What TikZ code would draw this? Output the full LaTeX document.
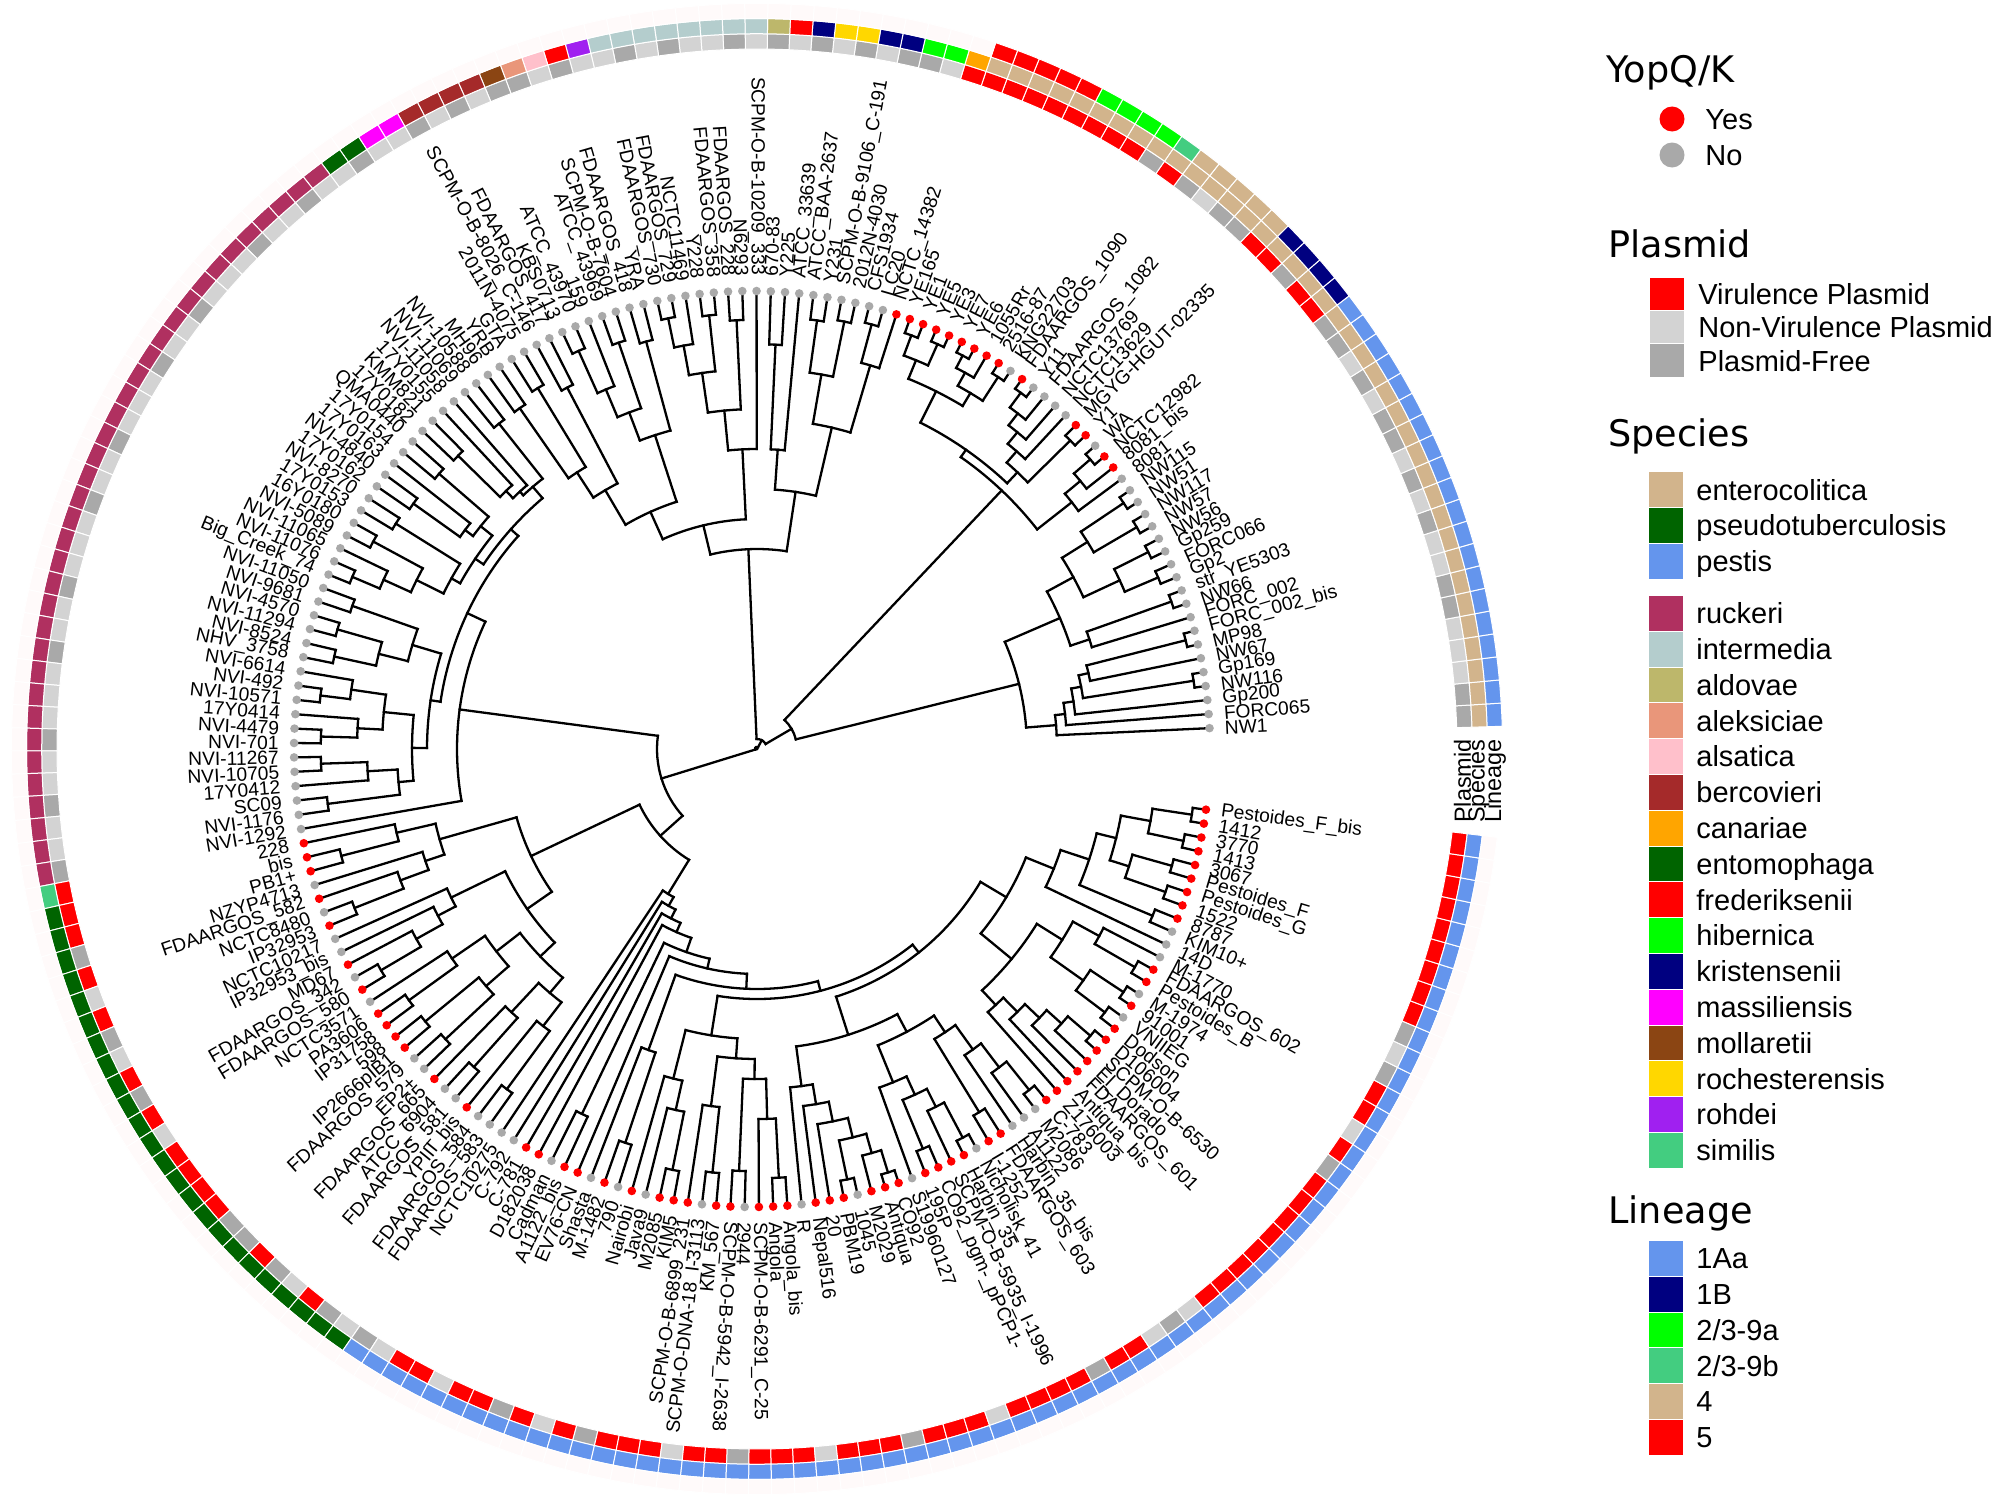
\documentclass[tikz,border=0pt]{standalone}
\usepackage{fontspec}
\setmainfont{Liberation Sans}
\newfontfamily\legfont{DejaVu Sans}
\definecolor{dY}{HTML}{FF0000}
\definecolor{dN}{HTML}{A9A9A9}
\definecolor{pV}{HTML}{FF0000}
\definecolor{pN}{HTML}{D3D3D3}
\definecolor{pF}{HTML}{A9A9A9}
\definecolor{sent}{HTML}{D2B48C}
\definecolor{spst}{HTML}{006400}
\definecolor{spes}{HTML}{6495ED}
\definecolor{sruc}{HTML}{B03060}
\definecolor{sint}{HTML}{B4CDCD}
\definecolor{sald}{HTML}{BDB76B}
\definecolor{sale}{HTML}{E9967A}
\definecolor{sals}{HTML}{FFC0CB}
\definecolor{sber}{HTML}{A52A2A}
\definecolor{scan}{HTML}{FFA500}
\definecolor{sento}{HTML}{006400}
\definecolor{sfre}{HTML}{FF0000}
\definecolor{shib}{HTML}{00FF00}
\definecolor{skri}{HTML}{000080}
\definecolor{smas}{HTML}{FF00FF}
\definecolor{smol}{HTML}{8B4513}
\definecolor{sroc}{HTML}{FFD700}
\definecolor{sroh}{HTML}{A020F0}
\definecolor{ssim}{HTML}{43CD80}
\definecolor{lA}{HTML}{6495ED}
\definecolor{lB}{HTML}{000080}
\definecolor{la}{HTML}{00FF00}
\definecolor{lb}{HTML}{43CD80}
\definecolor{l4}{HTML}{D2B48C}
\definecolor{l5}{HTML}{FF0000}
\definecolor{lX}{HTML}{FFFAFA}

\newcount\lfc
\newcount\dcount
\def\angstart{2.64}
\def\angstep{1.784}
\def\parR{0}
\def\lastang{0}

% leaf of the tree
\newcommand\TL{%
  \pgfmathsetmacro\tang{\angstart+\the\lfc*\angstep}%
  \pgfmathsetmacro\trr{458-5*cos(\tang)}%
  \draw[tree] (\tang:\trr) -- (\tang:\parR);%
  \global\advance\lfc by 1\relax
  \xdef\lastang{\tang}}
% internal node: radius, child, child
\newcommand\TN[3]{%
  \begingroup
  \edef\myPR{\parR}%
  \def\parR{#1}%
  #2\let\angA\lastang
  #3\let\angB\lastang
  \pgfmathsetmacro\myang{(\angA+\angB)/2}%
  \draw[tree] (\angA:#1) arc[start angle=\angA, end angle=\angB, radius=#1];%
  \draw[tree] (\myang:#1) -- (\myang:\myPR);%
  \xdef\lastang{\myang}%
  \endgroup}
% cherry: two tips joined close to the tip circle
\newcommand\tCh[1]{\pgfmathsetmacro\chr{445-(445-#1)*0.35}\expandafter\TN\expandafter{\chr}{\TL}{\TL}}
\newcommand\tLc[2]{\TN{#1}{\TL}{#2}}
\newcommand\tcL[2]{\TN{#1}{#2}{\TL}}

% clades
\newcommand\clNWa{\TN{300}{\TL}{\TN{310}{\TL}{\TN{320}{\TL}{\TN{330}{\tCh{436}}{\TN{340}{\TL}{\tCh{437}}}}}}}
\newcommand\clNWb{\TN{330}{\TN{350}{\TL}{\tCh{430}}}{\TN{360}{\TN{400}{\tCh{420}}{\tCh{425}}}{\TN{390}{\tCh{430}}{\tCh{435}}}}}
\newcommand\clNW{\TN{270}{\clNWa}{\clNWb}}
\newcommand\clEBa{\TN{400}{\TL}{\TN{420}{\TL}{\tCh{435}}}}
\newcommand\clEBx{\TN{380}{\tCh{430}}{\tLc{395}{\tLc{410}{\tLc{425}{\tCh{440}}}}}}
\newcommand\clEBy{\TN{400}{\TN{415}{\tCh{440}}{\tLc{430}{\tCh{442}}}}{\TN{420}{\tCh{440}}{\tCh{435}}}}
\newcommand\clEB{\TN{356}{\clEBa}{\TN{365}{\clEBx}{\clEBy}}}
\newcommand\clE{\TN{40}{\clNW}{\clEB}}
\newcommand\clTr{\TN{260}{\TN{330}{\tLc{400}{\tCh{430}}}{\TN{380}{\tCh{420}}{\tCh{410}}}}{\tLc{300}{\tCh{330}}}}
\newcommand\clINT{\tLc{300}{\TN{340}{\tCh{400}}{\TN{380}{\tCh{420}}{\tLc{410}{\tCh{430}}}}}}
\newcommand\clOTH{\TN{260}{\TN{330}{\tCh{380}}{\TN{360}{\tCh{400}}{\tLc{390}{\tCh{420}}}}}{\TN{300}{\tCh{340}}{\TN{330}{\tCh{380}}{\tCh{360}}}}}
\newcommand\clT{\TN{200}{\clTr}{\TN{230}{\clINT}{\clOTH}}}
\newcommand\clRuA{\TN{330}{\TN{345}{\tCh{360}}{\tLc{350}{\tLc{360}{\tCh{370}}}}}{\TN{340}{\TN{355}{\tCh{375}}{\tLc{365}{\tCh{380}}}}{\TN{350}{\tCh{390}}{\TN{380}{\tCh{420}}{\tLc{410}{\tCh{430}}}}}}}
\newcommand\clRuB{\TN{330}{\TN{360}{\tCh{400}}{\TN{390}{\tCh{420}}{\tCh{410}}}}{\TN{345}{\TN{375}{\tLc{410}{\tCh{430}}}{\tLc{400}{\tCh{420}}}}{\TN{360}{\tcL{390}{\tCh{420}}}{\tCh{410}}}}}
\newcommand\clRu{\tcL{300}{\TN{320}{\clRuA}{\clRuB}}}
\newcommand\clPSb{\TN{280}{\tLc{340}{\tLc{360}{\tLc{390}{\tCh{420}}}}}{\TN{300}{\TN{330}{\tLc{370}{\tCh{400}}}{\TN{360}{\tCh{400}}{\tCh{390}}}}{\TN{320}{\tLc{360}{\tCh{390}}}{\tLc{350}{\tCh{380}}}}}}
\newcommand\clPS{\TN{250}{\TN{330}{\tLc{370}{\tCh{400}}}{\tLc{350}{\tLc{380}{\tCh{410}}}}}{\clPSb}}
\newcommand\clPEm{\TN{290}{\tLc{340}{\tLc{370}{\tCh{400}}}}{\TN{310}{\tLc{360}{\tCh{390}}}{\TN{330}{\tCh{380}}{\tLc{370}{\tCh{400}}}}}}
\newcommand\clPEra{\TN{300}{\tLc{340}{\tLc{360}{\tLc{380}{\TN{400}{\tCh{430}}{\tLc{420}{\tCh{440}}}}}}}{\TN{320}{\tLc{360}{\TN{380}{\tCh{410}}{\tLc{400}{\tCh{430}}}}}{\TN{340}{\tCh{390}}{\tLc{370}{\tLc{400}{\tCh{420}}}}}}}
\newcommand\clPErb{\TN{290}{\TN{330}{\tLc{350}{\tLc{370}{\tLc{390}{\tLc{410}{\tCh{430}}}}}}{\TN{360}{\TN{400}{\tCh{420}}{\tCh{430}}}{\tcL{390}{\tCh{420}}}}}{\tLc{320}{\TN{350}{\tCh{400}}{\TN{370}{\TN{390}{\tCh{410}}{\tCh{405}}}{\TN{400}{\tCh{420}}{\tCh{430}}}}}}}
\newcommand\clPEr{\TN{260}{\clPEra}{\clPErb}}
\newcommand\clPE{\tLc{170}{\tLc{180}{\tLc{190}{\tLc{200}{\TN{215}{\tCh{330}}{\tLc{225}{\TN{240}{\tLc{320}{\tCh{360}}}{\TN{250}{\clPEm}{\clPEr}}}}}}}}}
\newcommand\clP{\TN{130}{\clPS}{\clPE}}
\newcommand\clROOT{\TN{2}{\TN{10}{\clE}{\clT}}{\TN{100}{\clRu}{\clP}}}

% ring tile
\newcommand\ringtile[3]{\fill[#3,draw=white,line width=0.5pt] (\qa:#1) arc[start angle=\qa,end angle=\qb,radius=#1] -- (\qb:#2) arc[start angle=\qb,end angle=\qa,radius=#2] -- cycle;}
% tip data: label, YopQ/K, plasmid, species, lineage
\newcommand\D[5]{%
  \pgfmathsetmacro\qang{\angstart+\the\dcount*\angstep}%
  \pgfmathsetmacro\qa{\qang-\angstep/2}%
  \pgfmathsetmacro\qb{\qang+\angstep/2}%
  \pgfmathsetmacro\qr{458-5*cos(\qang)}%
  \pgfmathsetmacro\ql{\qr+15}%
  \ringtile{700}{715.3}{p#3}\ringtile{715.3}{730.5}{s#4}\ringtile{730.5}{745.6}{l#5}%
  \fill[d#2] (\qang:\qr) circle[radius=4.3];%
  \def\flip{0}%
  \ifnum\dcount>48 \ifnum\dcount<148 \def\flip{1}\fi\fi
  \ifnum\flip=1
    \pgfmathsetmacro\qrot{\qang-180}%
    \node[lab,anchor=east,rotate=\qrot] (tip\the\dcount) at (\qang:\ql) {#1};%
  \else
    \node[lab,anchor=west,rotate=\qang] (tip\the\dcount) at (\qang:\ql) {#1};%
  \fi
  \global\advance\dcount by 1\relax}

\begin{document}
\begin{tikzpicture}[x=0.5pt,y=0.5pt,
  tree/.style={line width=1.15pt,line cap=rect,black},
  lab/.style={font=\fontsize{9.6}{11}\selectfont,inner sep=0pt},
  legtitle/.style={font=\legfont\fontsize{18.3}{22}\selectfont,inner sep=0pt},
  legitem/.style={font=\fontsize{14.5}{17}\selectfont,inner sep=0pt},
  keybox/.style={draw=white,line width=0.5pt},
  ringlab/.style={font=\fontsize{11.7}{13}\selectfont,inner sep=0pt,rotate=90,anchor=west}]
\fill[white] (0,0) rectangle (1995,-1504);
\useasboundingbox (0,0) rectangle (1995,-1504);
\begin{scope}[shift={(757,-749)}]
\global\lfc=0
\clROOT
\global\dcount=0
\D{NW1}{N}{F}{ent}{A}
\D{FORC065}{N}{F}{ent}{A}
\D{Gp200}{N}{N}{ent}{A}
\D{NW116}{N}{N}{ent}{A}
\D{Gp169}{N}{N}{ent}{A}
\D{NW67}{N}{F}{ent}{A}
\D{MP98}{N}{F}{ent}{A}
\D{FORC\_002\_bis}{N}{N}{ent}{A}
\D{FORC\_002}{N}{N}{ent}{A}
\D{NW66}{N}{F}{ent}{A}
\D{str\_YE5303}{N}{N}{ent}{A}
\D{Gp2}{N}{F}{ent}{A}
\D{FORC066}{N}{N}{ent}{A}
\D{Gp259}{N}{F}{ent}{A}
\D{NW56}{N}{F}{ent}{A}
\D{NW57}{N}{N}{ent}{A}
\D{NW117}{N}{F}{ent}{A}
\D{NW51}{N}{N}{ent}{A}
\D{NW115}{N}{F}{ent}{A}
\D{8081}{N}{F}{ent}{A}
\D{8081\_bis}{Y}{V}{ent}{B}
\D{NCTC12982}{Y}{V}{ent}{B}
\D{WA}{N}{F}{ent}{B}
\D{Y1}{Y}{V}{ent}{B}
\D{MGYG-HGUT-02335}{Y}{V}{ent}{4}
\D{NCTC13629}{N}{F}{ent}{4}
\D{NCTC13769}{N}{F}{ent}{4}
\D{FDAARGOS\_1082}{N}{N}{ent}{4}
\D{Y11}{N}{F}{ent}{4}
\D{FDAARGOS\_1090}{Y}{V}{ent}{b}
\D{KNG22703}{N}{F}{ent}{a}
\D{2516-87}{Y}{V}{ent}{a}
\D{1055Rr}{Y}{V}{ent}{a}
\D{YE6}{Y}{V}{ent}{a}
\D{YE7}{Y}{V}{ent}{5}
\D{YE3}{Y}{V}{ent}{5}
\D{YE5}{Y}{V}{ent}{5}
\D{YE1}{Y}{V}{ent}{5}
\D{YE165}{Y}{V}{ent}{5}
\D{NCTC\_14382}{Y}{V}{can}{X}
\D{LC20}{N}{N}{hib}{X}
\D{CFS1934}{N}{F}{hib}{X}
\D{2012N-4030}{N}{F}{kri}{X}
\D{SCPM-O-B-9106\_C-191}{N}{N}{kri}{X}
\D{Y231}{N}{F}{roc}{X}
\D{ATCC\_BAA-2637}{N}{N}{roc}{X}
\D{ATCC\_33639}{N}{F}{kri}{X}
\D{Y225}{N}{N}{fre}{X}
\D{670-83}{N}{F}{ald}{X}
\D{SCPM-O-B-10209\_333}{N}{N}{int}{X}
\D{N6293}{N}{F}{int}{X}
\D{FDAARGOS\_228}{N}{N}{int}{X}
\D{FDAARGOS\_358}{N}{N}{int}{X}
\D{Y228}{N}{F}{int}{X}
\D{NCTC11469}{N}{N}{int}{X}
\D{FDAARGOS\_729}{N}{F}{int}{X}
\D{FDAARGOS\_730}{N}{N}{int}{X}
\D{YRA}{N}{N}{roh}{X}
\D{FDAARGOS\_418}{N}{F}{fre}{X}
\D{SCPM-O-B-7604}{N}{N}{als}{X}
\D{ATCC\_43969}{N}{F}{ale}{X}
\D{159}{N}{F}{mol}{X}
\D{ATCC\_43970}{N}{N}{ber}{X}
\D{KBS0713}{N}{F}{ber}{X}
\D{FDAARGOS\_417}{N}{N}{ber}{X}
\D{SCPM-O-B-8026\_C-146}{N}{F}{ber}{X}
\D{2011N-4075}{N}{N}{mas}{X}
\D{GTA}{N}{N}{mas}{X}
\D{YRB}{N}{F}{ento}{X}
\D{MH96}{N}{N}{ento}{X}
\D{NVI-10588}{N}{N}{ruc}{X}
\D{NVI-11069}{N}{F}{ruc}{X}
\D{NVI-11058}{N}{N}{ruc}{X}
\D{17Y0155}{N}{N}{ruc}{X}
\D{KMM821}{N}{F}{ruc}{X}
\D{17Y0182}{N}{N}{ruc}{X}
\D{QMA0440}{N}{N}{ruc}{X}
\D{17Y0154}{N}{N}{ruc}{X}
\D{17Y0163}{N}{F}{ruc}{X}
\D{NVI-4840}{N}{N}{ruc}{X}
\D{17Y0162}{N}{N}{ruc}{X}
\D{NVI-8270}{N}{F}{ruc}{X}
\D{17Y0153}{N}{N}{ruc}{X}
\D{16Y0180}{N}{N}{ruc}{X}
\D{NVI-5089}{N}{N}{ruc}{X}
\D{NVI-11065}{N}{F}{ruc}{X}
\D{NVI-11076}{N}{N}{ruc}{X}
\D{Big\_Creek\_74}{N}{N}{ruc}{X}
\D{NVI-11050}{N}{F}{ruc}{X}
\D{NVI-9681}{N}{N}{ruc}{X}
\D{NVI-4570}{N}{N}{ruc}{X}
\D{NVI-11294}{N}{N}{ruc}{X}
\D{NVI-8524}{N}{F}{ruc}{X}
\D{NHV\_3758}{N}{N}{ruc}{X}
\D{NVI-6614}{N}{N}{ruc}{X}
\D{NVI-492}{N}{F}{ruc}{X}
\D{NVI-10571}{N}{N}{ruc}{X}
\D{17Y0414}{N}{N}{ruc}{X}
\D{NVI-4479}{N}{N}{ruc}{X}
\D{NVI-701}{N}{F}{ruc}{X}
\D{NVI-11267}{N}{N}{ruc}{X}
\D{NVI-10705}{N}{N}{ruc}{X}
\D{17Y0412}{N}{F}{ruc}{X}
\D{SC09}{N}{N}{ruc}{X}
\D{NVI-1176}{N}{N}{ruc}{X}
\D{NVI-1292}{N}{F}{ruc}{X}
\D{228}{Y}{V}{sim}{X}
\D{bis}{Y}{V}{pst}{X}
\D{PB1+}{Y}{V}{pst}{X}
\D{NZYP4713}{N}{F}{pst}{X}
\D{FDAARGOS\_582}{Y}{V}{pst}{X}
\D{NCTC8480}{N}{N}{pst}{X}
\D{IP32953}{Y}{V}{pst}{X}
\D{NCTC10217}{N}{F}{pst}{X}
\D{IP32953\_bis}{N}{N}{pst}{X}
\D{MD67}{Y}{V}{pst}{X}
\D{FDAARGOS\_342}{N}{F}{pst}{X}
\D{FDAARGOS\_580}{Y}{V}{pst}{X}
\D{NCTC3571}{N}{N}{pst}{X}
\D{PA3606}{Y}{V}{pst}{X}
\D{IP31758}{Y}{V}{pst}{X}
\D{598}{Y}{V}{pst}{X}
\D{IP2666pIB1}{Y}{V}{pst}{X}
\D{FDAARGOS\_579}{N}{F}{pst}{X}
\D{EP2+}{N}{F}{pst}{X}
\D{FDAARGOS\_665}{Y}{V}{pst}{X}
\D{ATCC\_6904}{N}{F}{pst}{X}
\D{FDAARGOS\_581}{N}{N}{pst}{X}
\D{YPIII\_bis}{Y}{V}{pst}{X}
\D{FDAARGOS\_584}{N}{F}{pst}{X}
\D{FDAARGOS\_583}{N}{N}{pst}{X}
\D{NCTC10275}{N}{F}{pes}{X}
\D{C-792}{N}{N}{pes}{X}
\D{C-781}{Y}{V}{pes}{X}
\D{D182038}{Y}{V}{pes}{X}
\D{Cadman}{N}{N}{pes}{X}
\D{A1122\_bis}{Y}{V}{pes}{X}
\D{EV76-CN}{Y}{V}{pes}{X}
\D{Shasta}{N}{F}{pes}{X}
\D{M-1482}{Y}{V}{pes}{X}
\D{790}{N}{N}{pes}{X}
\D{Nairobi}{Y}{V}{pes}{X}
\D{Java9}{N}{F}{pes}{X}
\D{M2085}{Y}{V}{pes}{X}
\D{KIM5}{Y}{V}{pes}{X}
\D{SCPM-O-B-6899\_231}{Y}{V}{pes}{X}
\D{SCPM-O-DNA-18\_I-3113}{N}{N}{pes}{X}
\D{KM\_567}{Y}{V}{pes}{X}
\D{SCPM-O-B-5942\_I-2638}{Y}{V}{pes}{X}
\D{2944}{N}{F}{pes}{X}
\D{SCPM-O-B-6291\_C-25}{Y}{V}{pes}{X}
\D{Angola}{Y}{V}{pes}{X}
\D{Angola\_bis}{Y}{V}{pes}{X}
\D{R}{N}{N}{pes}{X}
\D{Nepal516}{Y}{V}{pes}{X}
\D{20}{Y}{V}{pes}{X}
\D{PBM19}{Y}{V}{pes}{X}
\D{1045}{N}{F}{pes}{X}
\D{M2029}{Y}{V}{pes}{X}
\D{Antiqua}{Y}{V}{pes}{X}
\D{CO92}{Y}{V}{pes}{X}
\D{S19960127}{N}{N}{pes}{X}
\D{195P}{Y}{V}{pes}{X}
\D{CO92\_pgm-\_pPCP1-}{Y}{V}{pes}{X}
\D{SCPM-O-B-5935\_I-1996}{Y}{V}{pes}{X}
\D{Harbin\_35}{Y}{V}{pes}{X}
\D{Nicholisk\_41}{N}{F}{pes}{X}
\D{I-1252}{Y}{V}{pes}{X}
\D{FDAARGOS\_603}{Y}{V}{pes}{X}
\D{Harbin\_35\_bis}{N}{N}{pes}{X}
\D{A1122}{N}{F}{pes}{X}
\D{M2086}{N}{N}{pes}{X}
\D{C-783}{Y}{V}{pes}{X}
\D{Z176003}{Y}{V}{pes}{X}
\D{Antiqua\_bis}{Y}{V}{pes}{X}
\D{FDAARGOS\_601}{Y}{V}{pes}{X}
\D{El\_Dorado}{Y}{V}{pes}{X}
\D{SCPM-O-B-6530}{Y}{V}{pes}{X}
\D{D106004}{Y}{V}{pes}{X}
\D{Dodson}{Y}{V}{pes}{X}
\D{VNIIEG}{N}{F}{pes}{X}
\D{91001}{Y}{V}{pes}{X}
\D{M-1974}{N}{N}{pes}{X}
\D{Pestoides\_B}{Y}{V}{pes}{X}
\D{FDAARGOS\_602}{Y}{V}{pes}{X}
\D{M-1770}{N}{F}{pes}{X}
\D{14D}{N}{N}{pes}{X}
\D{KIM10+}{N}{F}{pes}{X}
\D{8787}{Y}{V}{pes}{X}
\D{1522}{Y}{V}{pes}{X}
\D{Pestoides\_G}{Y}{V}{pes}{X}
\D{Pestoides\_F}{Y}{V}{pes}{X}
\D{3067}{Y}{V}{pes}{X}
\D{1413}{Y}{V}{pes}{X}
\D{3770}{Y}{V}{pes}{X}
\D{1412}{Y}{V}{pes}{X}
\D{Pestoides\_F\_bis}{Y}{V}{pes}{X}
\end{scope}
% ring column labels
\node[ringlab] (rlP) at (1462.5,-823) {Plasmid};
\node[ringlab] (rlS) at (1478.5,-823) {Species};
\node[ringlab] (rlL) at (1495,-823) {Lineage};
% legend: YopQ/K
\node[legtitle,anchor=base west] (tYop) at (1606,-83) {YopQ/K};
\fill[dY] (1672,-119) circle[radius=12.5];
\node[legitem,anchor=base west] (iYes) at (1705,-129.4) {Yes};
\fill[dN] (1672,-155) circle[radius=12.5];
\node[legitem,anchor=base west] (iNo) at (1705,-165.4) {No};
% legend: Plasmid
\node[legtitle,anchor=base west] (tPla) at (1608,-257) {Plasmid};
\foreach \yc/\cc/\nm/\id in {294/pV/Virulence Plasmid/1,327.3/pN/Non-Virulence Plasmid/2,360.6/pF/Plasmid-Free/3}{
  \fill[\cc,keybox] (1649,-\yc+16.65) rectangle (1684,-\yc-16.65);
  \node[legitem,anchor=base west] (ipl\id) at (1698,-\yc-10.4) {\nm};
}
% legend: Species
\node[legtitle,anchor=base west] (tSpe) at (1608,-446) {Species};
\foreach \yc/\cc/\nm/\id in {489.8/sent/enterocolitica/1,525.5/spst/pseudotuberculosis/2,561.1/spes/pestis/3,
  613.3/sruc/ruckeri/4,649.1/sint/intermedia/5,684.9/sald/aldovae/6,720.7/sale/aleksiciae/7,756.5/sals/alsatica/8,
  792.3/sber/bercovieri/9,828.1/scan/canariae/10,863.9/sento/entomophaga/11,899.7/sfre/frederiksenii/12,
  935.5/shib/hibernica/13,971.3/skri/kristensenii/14,1007.1/smas/massiliensis/15,1042.9/smol/mollaretii/16,
  1078.7/sroc/rochesterensis/17,1114.5/sroh/rohdei/18,1150.3/ssim/similis/19}{
  \fill[\cc,keybox] (1648,-\yc+17.9) rectangle (1683,-\yc-17.9);
  \node[legitem,anchor=base west] (isp\id) at (1696,-\yc-10.4) {\nm};
}
% legend: Lineage
\node[legtitle,anchor=base west] (tLin) at (1608,-1223) {Lineage};
\foreach \yc/\cc/\nm/\id in {1258.3/lA/1Aa/1,1294.1/lB/1B/2,1329.9/la/2\slash 3-9a/3,1365.7/lb/2\slash 3-9b/4,1401.5/l4/4/5,1437.3/l5/5/6}{
  \fill[\cc,keybox] (1648,-\yc+17.9) rectangle (1683,-\yc-17.9);
  \node[legitem,anchor=base west] (ili\id) at (1696,-\yc-10.4) {\nm};
}
\end{tikzpicture}
\end{document}
